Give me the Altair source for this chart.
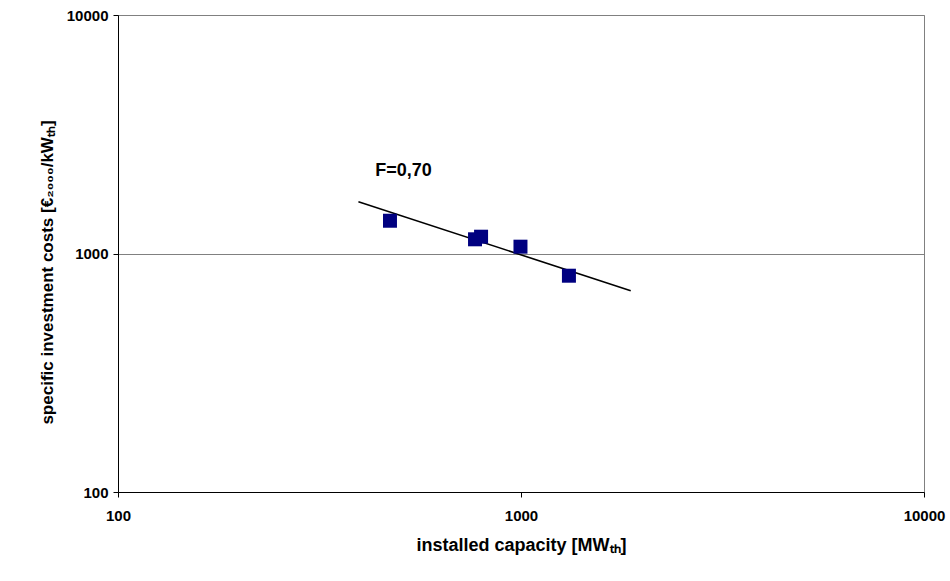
import altair as alt
import pandas as pd

# data
capacity = [473, 769, 796, 997, 1315]
cost = [1372, 1147, 1176, 1068, 807]

trend_x = [395, 1872]
trend_y = [1649, 698]

label_text = ["F=0,70"]
label_x = [511]
label_y = [2218]

ticks = [100, 1000, 10000]

pts = pd.DataFrame({"x": capacity, "y": cost})
trend = pd.DataFrame({"x": trend_x, "y": trend_y})
ann = pd.DataFrame({"x": label_x, "y": label_y, "t": label_text})

FONT = "Liberation Sans"

xscale = alt.Scale(type="log", domain=[100, 10000], nice=False)
yscale = alt.Scale(type="log", domain=[100, 10000], nice=False)

xaxis = alt.Axis(
    title="installed capacity [MWₜₕ]",
    values=ticks, format="d", grid=False,
    labelFlush=False, labelOverlap=False,
    tickSize=5, labelPadding=11, titlePadding=13, titleFontSize=18,
)
yaxis = alt.Axis(
    title="specific investment costs [€₂₀₀₀/kWₜₕ]",
    values=ticks, format="d", grid=True, gridColor="#808080",
    labelFlush=False, labelOverlap=False,
    tickSize=5, labelPadding=5, titlePadding=10, titleFontSize=17,
    titleY=257,
)

points = alt.Chart(pts).mark_point(
    shape="square", filled=True, size=196, color="#000080", opacity=1
).encode(
    x=alt.X("x:Q", scale=xscale, axis=xaxis),
    y=alt.Y("y:Q", scale=yscale, axis=yaxis),
)

line = alt.Chart(trend).mark_line(color="black", strokeWidth=1.6).encode(
    x=alt.X("x:Q", scale=xscale),
    y=alt.Y("y:Q", scale=yscale),
)

text = alt.Chart(ann).mark_text(
    font=FONT, fontSize=18, fontWeight="bold", color="black",
    align="center", baseline="middle",
).encode(
    x=alt.X("x:Q", scale=xscale),
    y=alt.Y("y:Q", scale=yscale),
    text="t:N",
)

chart = alt.layer(line, points, text).properties(
    width=806, height=477,
    autosize=alt.AutoSizeParams(type="none"),
    padding={"left": 118, "top": 15, "right": 26, "bottom": 89},
    background="white",
).configure_view(
    stroke="#808080", strokeWidth=1
).configure_axis(
    labelFont=FONT, titleFont=FONT,
    labelFontSize=15,
    labelFontWeight="bold", titleFontWeight="bold",
    labelColor="black", titleColor="black",
    domainColor="black", tickColor="black",
    domainWidth=1, tickWidth=1,
)

chart.save("out.html", embed_options={"renderer": "svg", "actions": False})
